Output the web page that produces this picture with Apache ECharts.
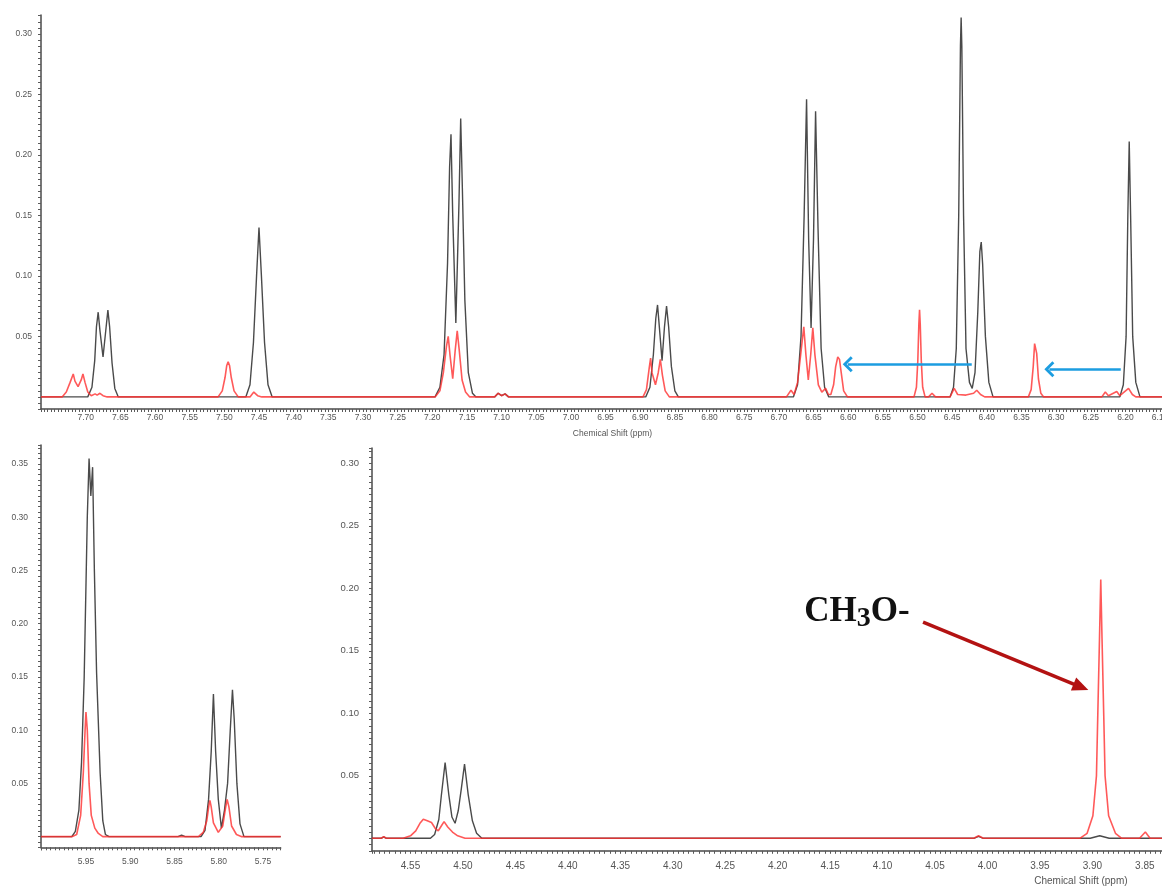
<!DOCTYPE html>
<html>
<head>
<meta charset="utf-8">
<script src="https://cdn.jsdelivr.net/npm/echarts@6/dist/echarts.min.js"></script>
<style>
  html, body { margin: 0; padding: 0; background: #ffffff; }
  #chart { width: 1162px; height: 887px; }
</style>
</head>
<body>
<div id="chart"></div>
<script>
// 1H NMR traces, each point is [chemical shift (ppm), intensity].
// Black: starting material, red: product.

// Aromatic / olefinic region, 7.76 - 6.14 ppm
const topBlack = [
  [7.7645, 0],
  [7.697, 0], [7.691, 0.008], [7.687, 0.030], [7.6845, 0.058], [7.682, 0.070], [7.6795, 0.055], [7.675, 0.033],
  [7.6705, 0.058], [7.668, 0.0717], [7.6655, 0.058], [7.662, 0.028], [7.658, 0.007], [7.653, 0],
  [7.469, 0], [7.463, 0.010], [7.458, 0.045], [7.4535, 0.100], [7.450, 0.140], [7.4465, 0.100], [7.442, 0.045], [7.437, 0.010], [7.431, 0],
  [7.196, 0], [7.189, 0.008], [7.183, 0.035], [7.178, 0.110], [7.175, 0.190], [7.173, 0.217], [7.1705, 0.150], [7.166, 0.061],
  [7.1615, 0.160], [7.159, 0.230], [7.1565, 0.170], [7.153, 0.080], [7.148, 0.020], [7.142, 0.003], [7.137, 0],
  [7.110, 0], [7.105, 0.003], [7.100, 0.001], [7.095, 0.0025], [7.090, 0],
  [6.892, 0], [6.886, 0.008], [6.881, 0.035], [6.8775, 0.065], [6.875, 0.076], [6.872, 0.055], [6.8685, 0.030],
  [6.865, 0.058], [6.862, 0.075], [6.859, 0.058], [6.855, 0.025], [6.850, 0.005], [6.845, 0],
  [6.679, 0], [6.673, 0.010], [6.668, 0.050], [6.6635, 0.150], [6.660, 0.246], [6.657, 0.130], [6.6535, 0.057],
  [6.650, 0.130], [6.647, 0.236], [6.6435, 0.140], [6.639, 0.040], [6.634, 0.008], [6.628, 0],
  [6.453, 0], [6.448, 0.008], [6.444, 0.040], [6.4405, 0.150], [6.438, 0.290], [6.437, 0.3135], [6.436, 0.290], [6.4335, 0.150],
  [6.430, 0.040], [6.425, 0.012], [6.421, 0.007], [6.417, 0.020], [6.413, 0.070], [6.410, 0.120], [6.408, 0.128], [6.406, 0.110],
  [6.402, 0.050], [6.397, 0.012], [6.391, 0],
  [6.208, 0], [6.203, 0.010], [6.199, 0.050], [6.1965, 0.150], [6.1945, 0.211], [6.1925, 0.150], [6.1895, 0.050], [6.185, 0.012], [6.179, 0],
  [6.14, 0]
];

const topRed = [
  [7.7645, 0],
  [7.734, 0], [7.728, 0.004], [7.7225, 0.012], [7.718, 0.019], [7.7155, 0.013], [7.711, 0.0085], [7.7065, 0.014], [7.704, 0.019],
  [7.701, 0.012], [7.697, 0.004], [7.692, 0.001], [7.6865, 0.0025], [7.6835, 0.0015], [7.6795, 0.003], [7.675, 0.001], [7.669, 0],
  [7.509, 0], [7.503, 0.005], [7.499, 0.016], [7.4965, 0.026], [7.4945, 0.029], [7.4925, 0.026], [7.490, 0.016], [7.486, 0.005], [7.480, 0],
  [7.463, 0], [7.4575, 0.004], [7.452, 0.001], [7.446, 0],
  [7.196, 0], [7.189, 0.005], [7.184, 0.020], [7.1795, 0.042], [7.177, 0.050], [7.1745, 0.035], [7.1705, 0.015],
  [7.167, 0.038], [7.164, 0.0545], [7.161, 0.038], [7.157, 0.014], [7.152, 0.004], [7.146, 0],
  [7.110, 0], [7.105, 0.003], [7.100, 0.001], [7.095, 0.0025], [7.090, 0],
  [6.896, 0], [6.891, 0.006], [6.887, 0.024], [6.885, 0.032], [6.883, 0.020], [6.878, 0.010], [6.874, 0.020], [6.871, 0.031],
  [6.868, 0.018], [6.864, 0.005], [6.858, 0],
  [6.689, 0], [6.6825, 0.0055], [6.678, 0.002], [6.673, 0.012], [6.6685, 0.035], [6.664, 0.058], [6.661, 0.035], [6.6575, 0.014],
  [6.654, 0.035], [6.651, 0.057], [6.648, 0.035], [6.643, 0.010], [6.638, 0.004], [6.6325, 0.007], [6.6285, 0.002],
  [6.625, 0.002], [6.621, 0.010], [6.618, 0.025], [6.615, 0.033], [6.6125, 0.031], [6.610, 0.020], [6.6065, 0.005], [6.601, 0],
  [6.505, 0], [6.5015, 0.008], [6.4995, 0.030], [6.498, 0.060], [6.497, 0.072], [6.496, 0.060], [6.4945, 0.030], [6.4925, 0.008], [6.489, 0],
  [6.484, 0], [6.479, 0.003], [6.474, 0],
  [6.453, 0], [6.447, 0.007], [6.442, 0.002], [6.430, 0.0015], [6.419, 0.003], [6.4145, 0.0055], [6.409, 0.002], [6.403, 0],
  [6.340, 0], [6.336, 0.006], [6.333, 0.025], [6.331, 0.044], [6.3295, 0.0455], [6.328, 0.036], [6.3255, 0.015], [6.322, 0.003], [6.318, 0],
  [6.234, 0], [6.229, 0.004], [6.2245, 0.001], [6.2125, 0.0045], [6.208, 0.001], [6.1955, 0.007], [6.190, 0.002], [6.185, 0],
  [6.14, 0]
];

// Olefinic CH2 region, 6.00 - 5.73 ppm
const leftBlack = [
  [6.0008, 0],
  [5.966, 0], [5.962, 0.005], [5.958, 0.025], [5.955, 0.070], [5.952, 0.150], [5.9485, 0.300], [5.9465, 0.355], [5.9445, 0.320],
  [5.9425, 0.347], [5.9405, 0.250], [5.938, 0.154], [5.934, 0.060], [5.931, 0.015], [5.928, 0.002], [5.924, 0],
  [5.846, 0], [5.842, 0.0015], [5.838, 0],
  [5.820, 0], [5.8155, 0.006], [5.8115, 0.035], [5.8085, 0.080], [5.806, 0.134], [5.8035, 0.080], [5.8005, 0.035], [5.797, 0.008],
  [5.7935, 0.025], [5.790, 0.050], [5.787, 0.100], [5.7845, 0.138], [5.7825, 0.110], [5.7795, 0.050], [5.776, 0.012], [5.7715, 0],
  [5.73, 0]
];

const leftRed = [
  [6.0008, 0],
  [5.966, 0], [5.9605, 0.002], [5.956, 0.020], [5.953, 0.060], [5.951, 0.100], [5.950, 0.117], [5.9485, 0.100], [5.9465, 0.050],
  [5.944, 0.020], [5.940, 0.008], [5.936, 0.003], [5.931, 0],
  [5.823, 0], [5.8175, 0.004], [5.8135, 0.015], [5.811, 0.030], [5.810, 0.034], [5.8085, 0.028], [5.806, 0.013], [5.8005, 0.004],
  [5.7955, 0.010], [5.7925, 0.026], [5.7905, 0.035], [5.7885, 0.028], [5.7855, 0.010], [5.780, 0.002], [5.774, 0],
  [5.73, 0]
];

// Aliphatic region, 4.59 - 3.83 ppm
const rightBlack = [
  [4.5867, 0], [4.578, 0], [4.5755, 0.0012], [4.573, 0],
  [4.531, 0], [4.527, 0.003], [4.523, 0.015], [4.5205, 0.035], [4.517, 0.0605], [4.5135, 0.035], [4.5105, 0.017], [4.5075, 0.012],
  [4.5045, 0.022], [4.5015, 0.040], [4.4985, 0.0594], [4.495, 0.035], [4.491, 0.014], [4.487, 0.004], [4.482, 0],
  [4.013, 0], [4.0085, 0.0015], [4.004, 0],
  [3.902, 0], [3.893, 0.002], [3.884, 0],
  [3.83, 0]
];

const rightRed = [
  [4.5867, 0], [4.578, 0], [4.5755, 0.0012], [4.573, 0],
  [4.557, 0], [4.550, 0.002], [4.545, 0.006], [4.541, 0.012], [4.5378, 0.0152], [4.534, 0.014], [4.530, 0.0126], [4.5265, 0.008],
  [4.5235, 0.006], [4.5205, 0.010], [4.518, 0.0133], [4.5145, 0.009], [4.510, 0.005], [4.505, 0.002], [4.498, 0],
  [4.013, 0], [4.0085, 0.002], [4.004, 0],
  [3.912, 0], [3.905, 0.004], [3.8995, 0.018], [3.8961, 0.050], [3.8948, 0.100], [3.8932, 0.160], [3.892, 0.207], [3.8908, 0.160],
  [3.8892, 0.100], [3.8879, 0.050], [3.8845, 0.018], [3.878, 0.004], [3.872, 0],
  [3.855, 0], [3.8495, 0.005], [3.845, 0],
  [3.83, 0]
];

// Shift arrows (from -> to, in ppm / intensity)
const shiftArrows = [
  [[6.4217, 0.027], [6.6006, 0.027]],
  [[6.2067, 0.0229], [6.3097, 0.0229]]
];
const methoxyArrow = [[4.0614, 0.173], [3.9109, 0.121]];
const methoxyLabelAt = [4.1244, 0.180];

const axisName = 'Chemical Shift (ppm)';
const TICK = 0.005;   // fine tick spacing on every axis
const LABEL = 0.05;   // labelled tick spacing

function onLabelStep(v) {
  const k = v / LABEL;
  return Math.abs(k - Math.round(k)) < 1e-4;
}
function shiftFormatter(maxShown) {
  return function (v) {
    if (!onLabelStep(v) || v > maxShown) return '';
    return (Math.round(v / LABEL) * LABEL).toFixed(2);
  };
}
function intensityFormatter(v) {
  if (!onLabelStep(v) || v < 0.01) return '';
  return (Math.round(v / LABEL) * LABEL).toFixed(2);
}

const axisLineStyle = { color: '#4a4a4a', width: 1.5 };
const tickStyle = { color: '#5a5a5a', width: 1 };

function shiftAxis(grid, min, max, maxShown, fontSize, margin, nameCfg) {
  const ax = {
    type: 'value', gridIndex: grid, min: min, max: max, inverse: true, interval: TICK,
    axisLine: { show: true, onZero: false, lineStyle: axisLineStyle },
    axisTick: { show: true, length: 3, lineStyle: tickStyle },
    minorTick: { show: false },
    splitLine: { show: false },
    axisLabel: {
      formatter: shiftFormatter(maxShown), fontSize: fontSize, color: '#555',
      fontFamily: 'Liberation Sans', margin: margin, showMinLabel: true, showMaxLabel: true
    }
  };
  if (nameCfg) {
    ax.name = axisName;
    ax.nameLocation = 'middle';
    ax.nameGap = nameCfg.gap;
    ax.nameMoveOverlap = false;
    ax.nameTextStyle = {
      fontSize: nameCfg.size, color: '#555', fontFamily: 'Liberation Sans',
      padding: [0, 0, 0, nameCfg.shift], verticalAlign: 'top'
    };
  }
  return ax;
}

function intensityAxis(grid, min, max, fontSize, margin) {
  return {
    type: 'value', gridIndex: grid, min: min, max: max, interval: TICK,
    axisLine: { show: true, onZero: false, lineStyle: axisLineStyle },
    axisTick: { show: true, length: 3, lineStyle: tickStyle },
    splitLine: { show: false },
    axisLabel: {
      formatter: intensityFormatter, fontSize: fontSize, color: '#555',
      fontFamily: 'Liberation Sans', margin: margin
    }
  };
}

function trace(data, idx, color, width, opacity, z) {
  return {
    type: 'line', xAxisIndex: idx, yAxisIndex: idx, data: data,
    showSymbol: false, symbol: 'none', smooth: false, silent: true,
    animation: false, clip: true, z: z,
    lineStyle: { color: color, width: width, opacity: opacity },
    emphasis: { disabled: true }
  };
}

const BLACK = '#2a2a2a';
const RED = '#ff3030';
const CHEVRON = 'path://M10,0 L20,10 L17.5,12.5 L10,5 L2.5,12.5 L0,10 Z';

const topRedSeries = trace(topRed, 0, RED, 1.6, 0.8, 3);
topRedSeries.markLine = {
  silent: true, animation: false,
  symbol: ['none', CHEVRON], symbolSize: [16, 10],
  lineStyle: { color: '#1c9de0', width: 2.5, type: 'solid', opacity: 1 },
  label: { show: false },
  emphasis: { disabled: true },
  data: shiftArrows.map(function (a) { return [{ coord: a[0] }, { coord: a[1] }]; })
};

const rightRedSeries = trace(rightRed, 2, RED, 1.6, 0.8, 3);
rightRedSeries.markLine = {
  silent: true, animation: false,
  symbol: ['none', 'triangle'], symbolSize: [14, 16],
  lineStyle: { color: '#b31212', width: 3.5, type: 'solid', opacity: 1 },
  label: { show: false },
  emphasis: { disabled: true },
  data: [[{ coord: methoxyArrow[0] }, { coord: methoxyArrow[1] }]]
};
rightRedSeries.markPoint = {
  silent: true, animation: false,
  symbol: 'circle', symbolSize: 1,
  itemStyle: { color: 'rgba(0,0,0,0)' },
  label: {
    show: true, position: 'inside',
    formatter: '{a|CH}{b|3}{a|O-}',
    rich: {
      a: { fontFamily: 'Liberation Serif', fontWeight: 'bold', fontSize: 35, color: '#111', verticalAlign: 'top' },
      b: { fontFamily: 'Liberation Serif', fontWeight: 'bold', fontSize: 28, color: '#111', verticalAlign: 'top', padding: [10, 0, 0, 0] }
    }
  },
  data: [{ coord: methoxyLabelAt }]
};

const chart = echarts.init(document.getElementById('chart'), null, { renderer: 'canvas' });
chart.setOption({
  animation: false,
  backgroundColor: '#ffffff',
  grid: [
    { left: 41, top: 15, width: 1126, height: 394, outerBoundsMode: 'none', containLabel: false },
    { left: 41, top: 445, width: 239.7, height: 402.3, outerBoundsMode: 'none', containLabel: false },
    { left: 372, top: 448, width: 793.8, height: 402.8, outerBoundsMode: 'none', containLabel: false }
  ],
  xAxis: [
    shiftAxis(0, 6.14, 7.7645, 7.72, 8.5, 4, { gap: 20, size: 8.5, shift: 17 }),
    shiftAxis(1, 5.73, 6.0008, 5.97, 8.5, 10, null),
    shiftAxis(2, 3.83, 4.5867, 4.57, 10, 10, { gap: 25, size: 10, shift: 624 })
  ],
  yAxis: [
    intensityAxis(0, -0.01, 0.3156, 8.5, 9),
    intensityAxis(1, -0.01, 0.3678, 8.5, 13),
    intensityAxis(2, -0.01, 0.3122, 9.5, 13)
  ],
  series: [
    trace(topBlack, 0, BLACK, 1.4, 0.85, 2),
    topRedSeries,
    trace(leftBlack, 1, BLACK, 1.4, 0.85, 2),
    trace(leftRed, 1, RED, 1.6, 0.8, 3),
    trace(rightBlack, 2, BLACK, 1.4, 0.85, 2),
    rightRedSeries
  ]
});
</script>
</body>
</html>
